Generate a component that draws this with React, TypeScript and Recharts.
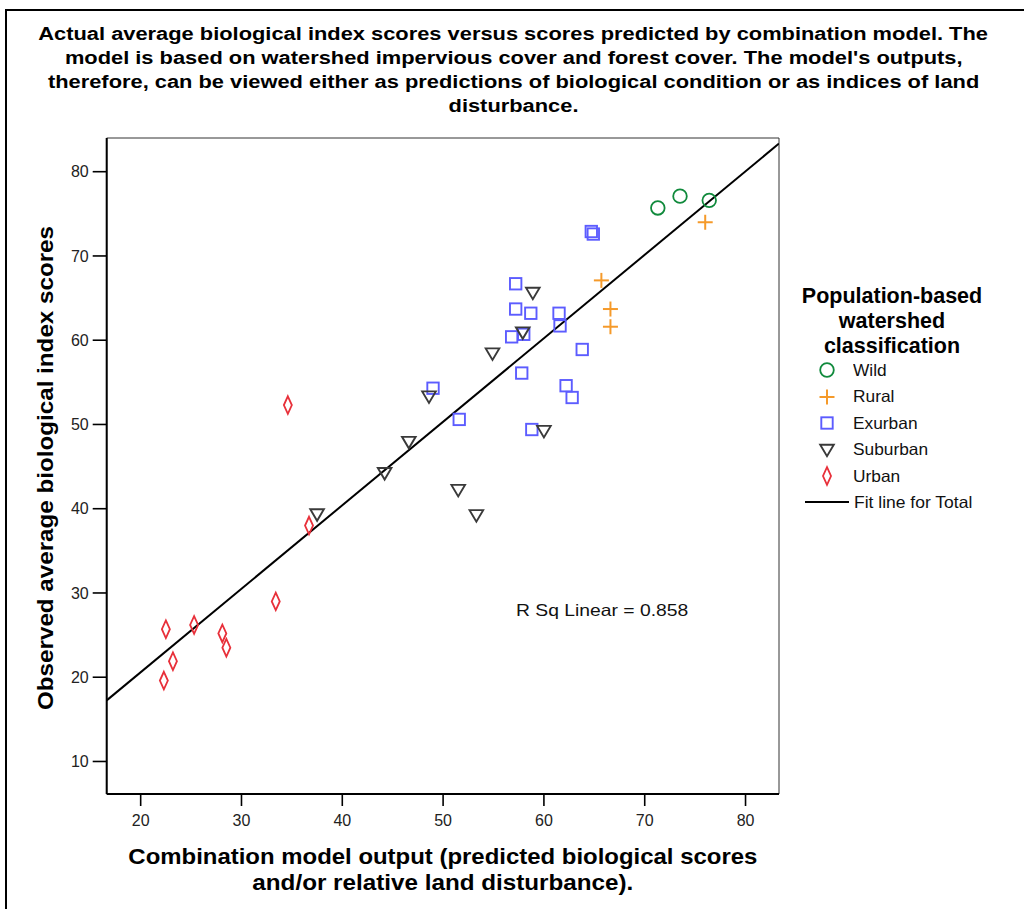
import React from 'react';
import { ScatterChart, Scatter, XAxis, YAxis, ReferenceLine, ReferenceArea, Label } from 'recharts';

const FONT = '"Liberation Sans", Arial, Helvetica, sans-serif';

const titleLines = [
  'Actual average biological index scores versus scores predicted by combination model. The',
  "model is based on watershed impervious cover and forest cover. The model's outputs,",
  'therefore, can be viewed either as predictions of biological condition or as indices of land',
  'disturbance.',
];
const xLabelLines = [
  'Combination model output (predicted biological scores',
  'and/or relative land disturbance).',
];
const yLabel = 'Observed average biological index scores';
const legendTitleLines = ['Population-based', 'watershed', 'classification'];
const rSqText = 'R Sq Linear = 0.858';

const xTicks = [20, 30, 40, 50, 60, 70, 80];
const yTicks = [10, 20, 30, 40, 50, 60, 70, 80];
const xDomain = [16.63, 83.32];
const yDomain = [6.14, 84.0];

const wildX = [71.3, 73.5, 76.4];
const wildY = [75.7, 77.1, 76.6];
const ruralX = [76.0, 65.7, 66.6, 66.6];
const ruralY = [74.0, 67.1, 63.7, 61.6];
const exurbanX = [64.7, 64.9, 57.2, 57.2, 58.7, 61.5, 61.6, 56.8, 58.0, 63.8, 57.8, 62.2, 62.8, 49.0, 51.6, 58.8];
const exurbanY = [72.9, 72.6, 66.7, 63.7, 63.2, 63.2, 61.7, 60.4, 60.7, 58.9, 56.1, 54.6, 53.2, 54.3, 50.6, 49.4];
const suburbanX = [58.9, 57.9, 54.9, 48.6, 46.6, 44.2, 37.5, 51.5, 53.3, 60.0];
const suburbanY = [65.6, 60.9, 58.4, 53.3, 47.9, 44.2, 39.3, 42.2, 39.2, 49.2];
const urbanX = [22.5, 23.2, 22.3, 25.3, 28.1, 28.5, 33.4, 36.7, 34.6];
const urbanY = [25.7, 21.9, 19.6, 26.2, 25.2, 23.5, 29.0, 38.0, 52.3];

const fitIntercept = 0.77;
const fitSlope = 0.991;

const COLORS = {
  wild: '#108a3c',
  rural: '#f59a2a',
  exurban: '#5c5cff',
  suburban: '#3a3a3a',
  urban: '#e8303a',
};

const pts = (xs: number[], ys: number[]) => xs.map((x, i) => ({ x, y: ys[i] }));

const CircleShape = (p: any) => (
  <circle cx={p.cx} cy={p.cy} r={6.8} fill="none" stroke={COLORS.wild} strokeWidth={1.8} />
);
const CrossShape = (p: any) => (
  <g stroke={COLORS.rural} strokeWidth={2}>
    <line x1={p.cx - 7.5} y1={p.cy} x2={p.cx + 7.5} y2={p.cy} />
    <line x1={p.cx} y1={p.cy - 7.5} x2={p.cx} y2={p.cy + 7.5} />
  </g>
);
const SquareShape = (p: any) => (
  <rect x={p.cx - 5.7} y={p.cy - 5.7} width={11.4} height={11.4} fill="none" stroke={COLORS.exurban} strokeWidth={1.9} />
);
const TriangleShape = (p: any) => (
  <polygon
    points={`${p.cx - 6.8},${p.cy - 5.3} ${p.cx + 6.8},${p.cy - 5.3} ${p.cx},${p.cy + 6.2}`}
    fill="none"
    stroke={COLORS.suburban}
    strokeWidth={1.9}
    strokeLinejoin="miter"
  />
);
const DiamondShape = (p: any) => (
  <polygon
    points={`${p.cx},${p.cy - 8.8} ${p.cx + 4},${p.cy} ${p.cx},${p.cy + 8.8} ${p.cx - 4},${p.cy}`}
    fill="none"
    stroke={COLORS.urban}
    strokeWidth={1.8}
  />
);

const legendItems = [
  { name: 'Wild', Shape: CircleShape },
  { name: 'Rural', Shape: CrossShape },
  { name: 'Exurban', Shape: SquareShape },
  { name: 'Suburban', Shape: TriangleShape },
  { name: 'Urban', Shape: DiamondShape },
];

const XLabelContent = (props: any) => {
  const vb = props.viewBox || { x: 0, y: 0, width: 0, height: 0 };
  const cx = vb.x + vb.width / 2;
  return (
    <text textAnchor="middle" fontFamily={FONT} fontWeight="bold" fontSize={21.5} fill="#000">
      <tspan x={cx} y={vb.y + 70} textLength={629} lengthAdjust="spacingAndGlyphs">{xLabelLines[0]}</tspan>
      <tspan x={cx} y={vb.y + 96} textLength={381} lengthAdjust="spacingAndGlyphs">{xLabelLines[1]}</tspan>
    </text>
  );
};

const YLabelContent = (props: any) => {
  const vb = props.viewBox || { x: 0, y: 0, width: 0, height: 0 };
  const x = vb.x - 13.4;
  const y = vb.y + vb.height / 2 + 2;
  return (
    <text x={x} y={y} transform={`rotate(-90, ${x}, ${y})`} textAnchor="middle" fontFamily={FONT} fontWeight="bold" fontSize={22} fill="#000" textLength={484} lengthAdjust="spacingAndGlyphs">
      {yLabel}
    </text>
  );
};

export default function App() {
  const fitSeg = [
    { x: xDomain[0], y: fitIntercept + fitSlope * xDomain[0] },
    { x: xDomain[1], y: fitIntercept + fitSlope * xDomain[1] },
  ];
  return (
    <div style={{ position: 'fixed', left: 0, top: 0, width: 1024, height: 909, background: '#fff', overflow: 'hidden', fontFamily: FONT }}>
      <div style={{ position: 'absolute', left: 5, top: 9, width: 1200, height: 1200, borderLeft: '2px solid #000', borderTop: '2px solid #000' }} />
      <div style={{ position: 'absolute', left: 0, top: 0 }}>
        <ScatterChart width={1024} height={909} margin={{ top: 138, right: 245, bottom: 85, left: 66.7 }}>
          <XAxis
            type="number"
            dataKey="x"
            domain={xDomain}
            ticks={xTicks}
            allowDataOverflow
            height={30}
            tickSize={12}
            tickMargin={9}
            axisLine={{ stroke: '#000', strokeWidth: 2 }}
            tickLine={{ stroke: '#000', strokeWidth: 1.6 }}
            tick={{ fill: '#222', fontSize: 16, fontFamily: FONT }}
          >
            <Label content={XLabelContent} />
          </XAxis>
          <YAxis
            type="number"
            dataKey="y"
            domain={yDomain}
            ticks={yTicks}
            allowDataOverflow
            width={40}
            tickSize={14}
            tickMargin={4}
            axisLine={{ stroke: '#000', strokeWidth: 2 }}
            tickLine={{ stroke: '#000', strokeWidth: 1.6 }}
            tick={{ fill: '#222', fontSize: 16, fontFamily: FONT }}
          >
            <Label content={YLabelContent} />
          </YAxis>
          <ReferenceArea x1={xDomain[0]} x2={xDomain[1]} y1={yDomain[0]} y2={yDomain[1]} fill="none" stroke="#333" strokeWidth={1} ifOverflow="extendDomain" />
          <ReferenceLine segment={fitSeg} stroke="#000" strokeWidth={2} ifOverflow="hidden" />
          <Scatter name="Wild" data={pts(wildX, wildY)} shape={CircleShape} isAnimationActive={false} />
          <Scatter name="Rural" data={pts(ruralX, ruralY)} shape={CrossShape} isAnimationActive={false} />
          <Scatter name="Exurban" data={pts(exurbanX, exurbanY)} shape={SquareShape} isAnimationActive={false} />
          <Scatter name="Suburban" data={pts(suburbanX, suburbanY)} shape={TriangleShape} isAnimationActive={false} />
          <Scatter name="Urban" data={pts(urbanX, urbanY)} shape={DiamondShape} isAnimationActive={false} />
        </ScatterChart>
      </div>
      <div style={{ position: 'absolute', left: 0, top: 22, width: 1027, textAlign: 'center', fontWeight: 'bold', fontSize: 18, lineHeight: '24px', color: '#000' }}>
        {titleLines.map((l, i) => (
          <div key={i}>
            <span style={{ display: 'inline-block', transform: 'scaleX(1.214)', transformOrigin: '50% 50%', whiteSpace: 'nowrap' }}>{l}</span>
          </div>
        ))}
      </div>
      <div style={{ position: 'absolute', left: 516, top: 599, fontSize: 16.5, lineHeight: '22px', color: '#111', whiteSpace: 'nowrap', transform: 'scaleX(1.17)', transformOrigin: '0 50%' }}>{rSqText}</div>
      <div style={{ position: 'absolute', left: 782, top: 284, width: 220, color: '#000' }}>
        <div style={{ textAlign: 'center', fontWeight: 'bold', fontSize: 21.5, lineHeight: '25px' }}>
          {legendTitleLines.map((l, i) => (
            <div key={i}>{l}</div>
          ))}
        </div>
      </div>
      {legendItems.map((it, i) => (
        <div key={it.name} style={{ position: 'absolute', left: 806, top: 357 + i * 26.5, height: 26, display: 'flex', alignItems: 'center' }}>
          <svg width={42} height={26} style={{ display: 'block' }}>
            <it.Shape cx={21} cy={13} />
          </svg>
          <span style={{ marginLeft: 5, fontSize: 16.5, color: '#111', display: 'inline-block', transform: 'scaleX(1.05)', transformOrigin: '0 50%' }}>{it.name}</span>
        </div>
      ))}
      <div style={{ position: 'absolute', left: 805, top: 489, height: 26, display: 'flex', alignItems: 'center' }}>
        <svg width={44} height={26} style={{ display: 'block' }}>
          <line x1={0} y1={13} x2={44} y2={13} stroke="#000" strokeWidth={2} />
        </svg>
        <span style={{ marginLeft: 5, fontSize: 16.5, color: '#111', display: 'inline-block', transform: 'scaleX(1.06)', transformOrigin: '0 50%' }}>Fit line for Total</span>
      </div>
    </div>
  );
}
